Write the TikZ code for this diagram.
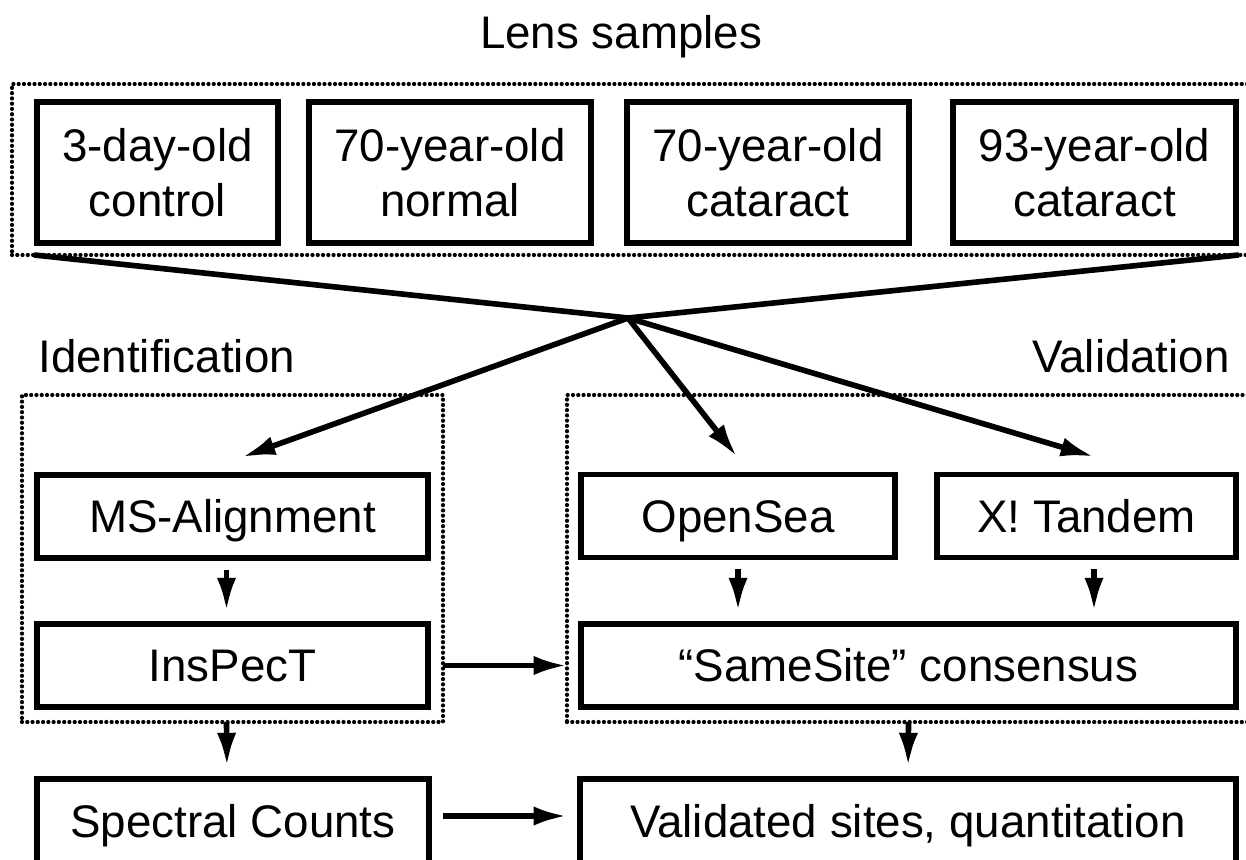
\documentclass[tikz,border=0pt]{standalone}
\usepackage{fontspec}
\setmainfont{Liberation Sans}
\usepackage{tikz}
\usetikzlibrary{arrows.meta}

\begin{document}
\begin{tikzpicture}[every node/.style={font=\fontsize{26}{31}\selectfont}, >={Latex[length=19pt,width=11pt]},
	sample/.style={draw, line width=3.2pt, align=center, minimum height=2.82cm, inner sep=0pt},
	tool/.style={draw, line width=3.2pt, minimum height=1.66cm, text height=19pt, text depth=0.5pt, inner sep=0pt},
	group/.style={draw, line width=2.4pt, dash pattern=on 0pt off 3pt, line cap=round, inner sep=0pt, outer sep=0pt},
	title/.style={inner sep=0pt},
	conn/.style={line width=3.2pt}]
	\useasboundingbox (0,0) rectangle (24.92,-17.18);
	
	% dotted groups
	\node[group, minimum width=24.98cm, minimum height=3.42cm] (lens) at (12.73,-3.39) {};
	\node[group, minimum width=8.42cm, minimum height=6.54cm] (ident) at (4.65,-11.17) {};
	\node[group, minimum width=13.66cm, minimum height=6.54cm] (valid) at (18.17,-11.17) {};
	
	\node[title, anchor=base] (lenstitle) at (12.42,-0.98) {Lens samples};
	\node[title, anchor=base west] (idtitle) at (0.76,-7.44) {Identification};
	\node[title, anchor=base east] (valtitle) at (24.6,-7.44) {Validation};
	
	\node[sample, minimum width=4.82cm] (s1) at (3.15,-3.45) {3-day-old\\control};
	\node[sample, minimum width=5.64cm] (s2) at (9.0,-3.45) {70-year-old\\normal};
	\node[sample, minimum width=5.64cm] (s3) at (15.36,-3.45) {70-year-old\\cataract};
	\node[sample, minimum width=5.66cm] (s4) at (21.89,-3.45) {93-year-old\\cataract};
	
	\node[tool, minimum width=7.82cm] (msa) at (4.65,-10.33) {MS-Alignment};
	\node[tool, minimum width=7.82cm] (insp) at (4.65,-13.31) {InsPecT};
	\node[tool, minimum width=6.28cm] (opensea) at (14.76,-10.32) {OpenSea};
	\node[tool, minimum width=5.98cm] (xtandem) at (21.73,-10.32) {X! Tandem};
	\node[tool, minimum width=13.1cm] (samesite) at (18.17,-13.31) {“SameSite” consensus};
	\node[tool, minimum width=7.84cm, minimum height=1.68cm] (spectral) at (4.66,-16.42) {Spectral Counts};
	\node[tool, minimum width=13.12cm, minimum height=1.68cm] (validated) at (18.16,-16.42) {Validated sites, quantitation};
	
	\coordinate (j) at (12.56,-6.36);
	
	\draw[conn] (s1.south west |- lens.south) -- (j);
	\draw[conn] (s4.south east |- lens.south) -- (j);
	\draw[conn, ->] (j) -- ([xshift=0.19cm, yshift=0.3cm]msa.north);
	\draw[conn, ->] (j) -- ([xshift=-0.02cm, yshift=0.3cm]opensea.north);
	\draw[conn, ->] (j) -- ([xshift=0.15cm, yshift=0.3cm]xtandem.north);
	
	\draw[conn, ->, shorten <=0.18cm, shorten >=0.2cm] ([xshift=-0.12cm]msa.south) -- ([xshift=-0.12cm]insp.north);
	\draw[conn, ->, shorten <=0.18cm, shorten >=0.2cm] (opensea.south) -- (opensea.south |- samesite.north);
	\draw[conn, ->, shorten <=0.18cm, shorten >=0.2cm] ([xshift=0.15cm]xtandem.south) -- ([xshift=0.15cm]xtandem.south |- samesite.north);
	\draw[conn, ->] (ident.east |- insp) -- (valid.west |- insp);
	
	\draw[conn, ->, shorten >=0.2cm] ([xshift=-0.12cm]ident.south) -- ([xshift=-0.12cm]spectral.north);
	\draw[conn, ->, shorten >=0.2cm] (valid.south) -- (validated.north);
	\draw[conn, ->] ([yshift=0.1cm]ident.east |- spectral) -- ([yshift=0.1cm]valid.west |- spectral);
\end{tikzpicture}
\end{document}
